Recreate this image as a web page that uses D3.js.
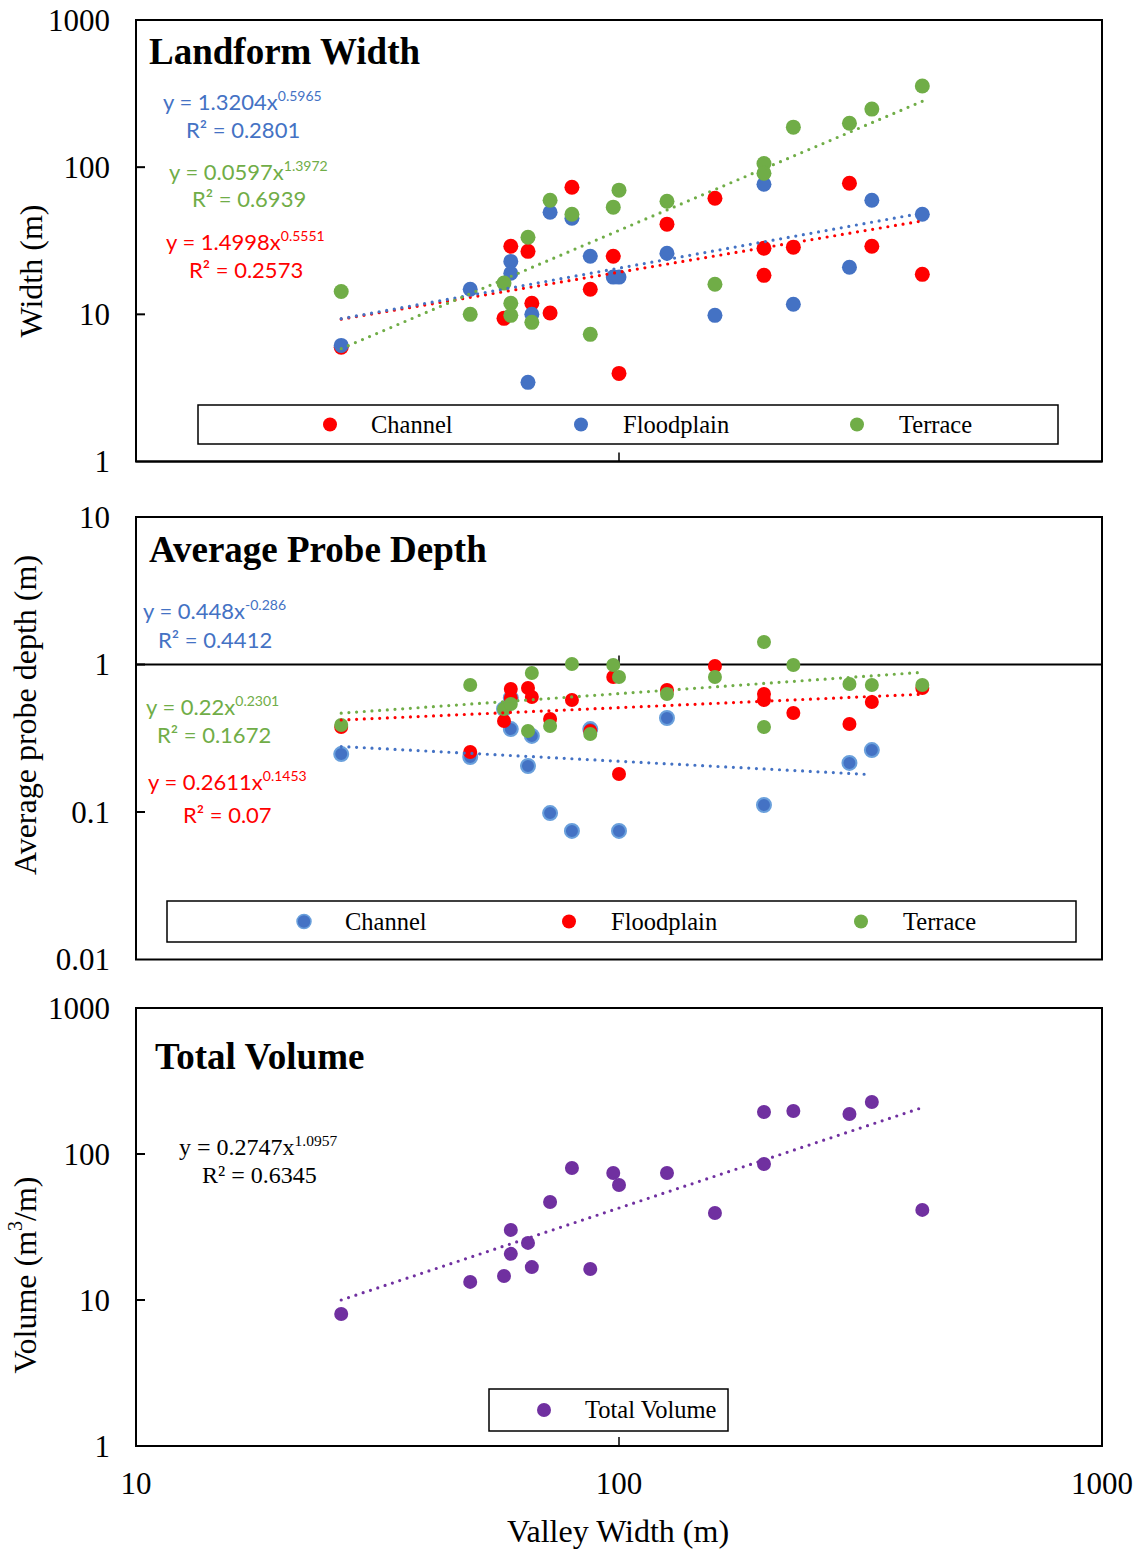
<!DOCTYPE html>
<html>
<head>
<meta charset="utf-8">
<script src="https://cdn.jsdelivr.net/npm/d3@7"></script>
<style>
    body { margin: 0; background: #fff; }
    text { font-family: "Liberation Serif", "Times New Roman", serif; }
    .eq { font-family: Lato, "Liberation Sans", sans-serif; }
</style>
</head>
<body>
<script>

    // valley width of each site (x, shared by all three panels)
    const valleyWidth = [26.6, 49.2, 57.8, 59.7, 59.7, 64.8, 66.0, 72.0, 79.9, 87.2,
                         97.3, 100, 125.7, 158, 199.6, 199.6, 229.6, 300, 333.8, 424.6];

    // landform width (m)
    const widthChannel    = [5.97, null, 9.39, 29.0, null, 26.8, 11.9, 10.2, 73.1, 14.8,
                             24.8, 3.97, 41.0, 61.5, 28.1, 18.4, 28.6, 77.8, 29.0, 18.7];
    const widthFloodplain = [6.15, 14.8, null, 22.9, 19.0, 3.45, 10.0, 49.4, 45.0, 24.8,
                             17.9, 17.9, 26.0, 9.84, 76.6, null, 11.7, 20.9, 59.6, 47.9];
    const widthTerrace    = [14.3, 10.0, 16.3, 11.9, 9.84, 33.4, 8.82, 59.6, 47.9, 7.31,
                             53.5, 69.8, 58.7, 16.0, 106, 91, 187, 199, 248, 356];

    // average probe depth (m)
    const depthChannel    = [0.247, 0.236, 0.499, 0.593, 0.365, 0.205, 0.328, 0.0984, 0.0744, 0.365,
                             null, 0.0744, 0.434, null, 0.1115, null, null, 0.215, 0.263, null];
    const depthFloodplain = [0.377, 0.255, 0.414, 0.682, 0.593, 0.693, 0.602, 0.427, 0.574, 0.354,
                             0.823, 0.181, 0.672, 0.977, 0.631, 0.574, 0.469, 0.395, 0.557, 0.693];
    const depthTerrace    = [0.389, 0.726, 0.499, 0.540, null, 0.354, 0.876, 0.383, 1.008, 0.338,
                             0.992, 0.823, 0.631, 0.823, 1.421, 0.377, 0.992, 0.738, 0.726, 0.726];

    // total volume (m3/m)
    const totalVolume = [8.02, 13.3, 14.6, 30.2, 20.7, 24.6, 16.8, 46.9, 80.2, 16.3,
                         74.1, 61.3, 74.1, 39.4, 194, 85.4, 197, 188, 227, 41.4];

    // power trendlines y = a * x^b  [a, b, xStart, xEnd]
    const widthTrendChannel    = [1.4998, 0.5551, 26.6, 424.6];
    const widthTrendFloodplain = [1.3204, 0.5965, 26.6, 424.6];
    const widthTrendTerrace    = [0.0597, 1.3972, 26.6, 424.6];
    const depthTrendChannel    = [0.491, -0.1735, 26.6, 326];   // as drawn in the figure
    const depthTrendFloodplain = [0.2611, 0.1453, 26.6, 424.6];
    const depthTrendTerrace    = [0.22, 0.2301, 26.6, 424.6];
    const volumeTrend          = [0.2747, 1.0957, 26.6, 424.6];

    // equation labels [main, superscript, r2]
    const widthLabels = {
        Channel:    ['y = 1.4998x', '0.5551', 'R\u00b2 = 0.2573'],
        Floodplain: ['y = 1.3204x', '0.5965', 'R\u00b2 = 0.2801'],
        Terrace:    ['y = 0.0597x', '1.3972', 'R\u00b2 = 0.6939']
    };
    const depthLabels = {
        Channel:    ['y = 0.448x', '-0.286', 'R\u00b2 = 0.4412'],
        Floodplain: ['y = 0.2611x', '0.1453', 'R\u00b2 = 0.07'],
        Terrace:    ['y = 0.22x', '0.2301', 'R\u00b2 = 0.1672']
    };
    const volumeLabel = ['y = 0.2747x', '1.0957', 'R\u00b2 = 0.6345'];

    const xTicks = [10, 100, 1000];

    const colors = {
        red: '#ff0000',
        blue: '#4472c4',
        green: '#70ad47',
        purple: '#7030a0'
    };

    const measurements = {
        width: 1140,
        height: 1551,
        left: 136,
        right: 1102
    };

    const svg = d3.select('body')
        .append('svg')
        .attr('width', measurements.width)
        .attr('height', measurements.height);

    const x = d3.scaleLog()
        .domain([10, 1000])
        .range([measurements.left, measurements.right]);

    const panels = [
        {
            top: 20, bottom: 461.5, domain: [1, 1000],
            title: 'Landform Width', titleX: 149, titleY: 64,
            ylabel: 'Width (m)', ylabelX: 31, ylabelY: 271,
            r: 7.5, axisAt: 1,
            series: [
                { name: 'Channel', values: widthChannel, color: colors.red, trend: widthTrendChannel,
                  label: widthLabels.Channel, eq: [166, 250, 189, 278], lx: 330, tx: 371 },
                { name: 'Floodplain', values: widthFloodplain, color: colors.blue, trend: widthTrendFloodplain,
                  label: widthLabels.Floodplain, eq: [163, 110, 186, 138], lx: 581, tx: 623 },
                { name: 'Terrace', values: widthTerrace, color: colors.green, trend: widthTrendTerrace,
                  label: widthLabels.Terrace, eq: [169, 180, 192, 207], lx: 857, tx: 899 }
            ],
            eqClass: 'eq', eqSize: 22, supSize: 14,
            legend: { x: 198, y: 405, w: 860, h: 39 }
        },
        {
            top: 517, bottom: 959.5, domain: [0.01, 10],
            title: 'Average Probe Depth', titleX: 149, titleY: 562,
            ylabel: 'Average probe depth (m)', ylabelX: 25, ylabelY: 715,
            r: 7, axisAt: 1,
            series: [
                { name: 'Channel', values: depthChannel, color: colors.blue, halo: '#6aa0dc', trend: depthTrendChannel,
                  label: depthLabels.Channel, eq: [143, 619, 158, 648], lx: 304, tx: 345 },
                { name: 'Floodplain', values: depthFloodplain, color: colors.red, trend: depthTrendFloodplain,
                  label: depthLabels.Floodplain, eq: [148, 790, 183, 823], lx: 569, tx: 611 },
                { name: 'Terrace', values: depthTerrace, color: colors.green, trend: depthTrendTerrace,
                  label: depthLabels.Terrace, eq: [146, 715, 157, 743], lx: 861, tx: 903 }
            ],
            eqClass: 'eq', eqSize: 22, supSize: 14,
            legend: { x: 167, y: 901, w: 909, h: 41 }
        },
        {
            top: 1008, bottom: 1446, domain: [1, 1000],
            title: 'Total Volume', titleX: 155, titleY: 1069,
            ylabel: 'Volume (m', ylabelX: 25, ylabelY: 1275,
            r: 7, axisAt: 1,
            series: [
                { name: 'Total Volume', values: totalVolume, color: colors.purple, trend: volumeTrend,
                  label: volumeLabel, eq: [179, 1155, 202, 1183], lx: 544, tx: 585, eqColor: '#000' }
            ],
            eqClass: 'eqs', eqSize: 24, supSize: 15.5,
            legend: { x: 489, y: 1389, w: 239, h: 42 }
        }
    ];

    panels.forEach(drawPanel);

    // x tick labels and axis title under the last panel
    svg.append('g').selectAll('text')
        .data(xTicks)
        .enter()
        .append('text')
        .attr('x', d => x(d))
        .attr('y', 1494)
        .attr('text-anchor', 'middle')
        .style('font-size', '31px')
        .text(d => d);

    svg.append('text')
        .attr('x', 618)
        .attr('y', 1542)
        .attr('text-anchor', 'middle')
        .style('font-size', '32px')
        .text('Valley Width (m)');

    function drawPanel(p, pi) {
        let g = svg.append('g');
        let y = d3.scaleLog()
            .domain(p.domain)
            .range([p.bottom, p.top]);

        // plot frame
        g.append('rect')
            .attr('x', measurements.left)
            .attr('y', p.top)
            .attr('width', measurements.right - measurements.left)
            .attr('height', p.bottom - p.top)
            .attr('fill', 'none')
            .attr('stroke', '#000')
            .attr('stroke-width', 2);

        // horizontal axis line (crosses at 1)
        g.append('line')
            .attr('x1', measurements.left)
            .attr('x2', measurements.right)
            .attr('y1', y(p.axisAt))
            .attr('y2', y(p.axisAt))
            .attr('stroke', '#000')
            .attr('stroke-width', 2);

        // x tick at 100
        g.append('line')
            .attr('x1', x(100)).attr('x2', x(100))
            .attr('y1', y(p.axisAt)).attr('y2', y(p.axisAt) - 9)
            .attr('stroke', '#000')
            .attr('stroke-width', 1.5);

        // y ticks + labels
        let yTicks = y.ticks().filter(d => Math.abs(Math.log10(d) - Math.round(Math.log10(d))) < 1e-9);
        g.selectAll('.ytick')
            .data(yTicks.filter(d => d > p.domain[0] && d < p.domain[1]))
            .enter()
            .append('line')
            .attr('x1', measurements.left)
            .attr('x2', measurements.left + 9)
            .attr('y1', d => y(d))
            .attr('y2', d => y(d))
            .attr('stroke', '#000')
            .attr('stroke-width', 2);

        g.selectAll('.ylab')
            .data(yTicks)
            .enter()
            .append('text')
            .attr('x', 110)
            .attr('y', d => y(d))
            .attr('dy', '0.34em')
            .attr('text-anchor', 'end')
            .style('font-size', '31px')
            .text(d => d3.format('~g')(d));

        // y axis title
        let yl = g.append('text')
            .attr('transform', 'translate(' + p.ylabelX + ',' + p.ylabelY + ') rotate(-90)')
            .attr('text-anchor', 'middle')
            .attr('dominant-baseline', 'central')
            .style('font-size', '32px')
            .text(p.ylabel);
        if (pi === 2) {
            yl.append('tspan').attr('dy', -10).style('font-size', '20px').text('3');
            yl.append('tspan').attr('dy', 10).text('/m)');
        }

        // title
        g.append('text')
            .attr('x', p.titleX)
            .attr('y', p.titleY)
            .style('font-size', '37px')
            .style('font-weight', 'bold')
            .text(p.title);

        // markers
        p.series.forEach(s => {
            let pts = valleyWidth.map((v, i) => [v, s.values[i]]).filter(d => d[1] != null);
            g.append('g').selectAll('circle')
                .data(pts)
                .enter()
                .append('circle')
                .attr('cx', d => x(d[0]))
                .attr('cy', d => y(d[1]))
                .attr('r', p.r)
                .attr('fill', s.color)
                .attr('stroke', s.halo || 'none')
                .attr('stroke-width', s.halo ? 2 : 0);
        });

        // trendlines
        p.series.forEach(s => {
            let t = s.trend;
            let ends = [t[2], t[3]].map(v => [v, t[0] * Math.pow(v, t[1])]);
            g.append('path')
                .datum(ends)
                .attr('d', d3.line().x(d => x(d[0])).y(d => y(d[1])))
                .attr('fill', 'none')
                .attr('stroke', s.color)
                .attr('stroke-width', 3.2)
                .attr('stroke-linecap', 'round')
                .attr('stroke-dasharray', '0 7.7');
        });

        // equations
        p.series.forEach(s => {
            let col = s.eqColor || s.color;
            let t = g.append('text')
                .attr('class', p.eqClass)
                .attr('x', s.eq[0])
                .attr('y', s.eq[1])
                .attr('fill', col)
                .style('font-size', p.eqSize + 'px');
            t.append('tspan').text(s.label[0]);
            t.append('tspan').attr('dy', -9).style('font-size', p.supSize + 'px').text(s.label[1]);
            g.append('text')
                .attr('class', p.eqClass)
                .attr('x', s.eq[2])
                .attr('y', s.eq[3])
                .attr('fill', col)
                .style('font-size', p.eqSize + 'px')
                .text(s.label[2]);
        });

        // legend
        let L = p.legend;
        g.append('rect')
            .attr('x', L.x).attr('y', L.y)
            .attr('width', L.w).attr('height', L.h)
            .attr('fill', '#fff')
            .attr('stroke', '#000')
            .attr('stroke-width', 1.5);
        p.series.forEach(s => {
            g.append('circle')
                .attr('cx', s.lx)
                .attr('cy', L.y + L.h / 2)
                .attr('r', 7)
                .attr('fill', s.color)
                .attr('stroke', s.halo || 'none')
                .attr('stroke-width', s.halo ? 1.5 : 0);
            g.append('text')
                .attr('x', s.tx)
                .attr('y', L.y + L.h / 2)
                .attr('dy', '0.33em')
                .style('font-size', '24.5px')
                .text(s.name);
        });
    }

</script>
</body>
</html>
